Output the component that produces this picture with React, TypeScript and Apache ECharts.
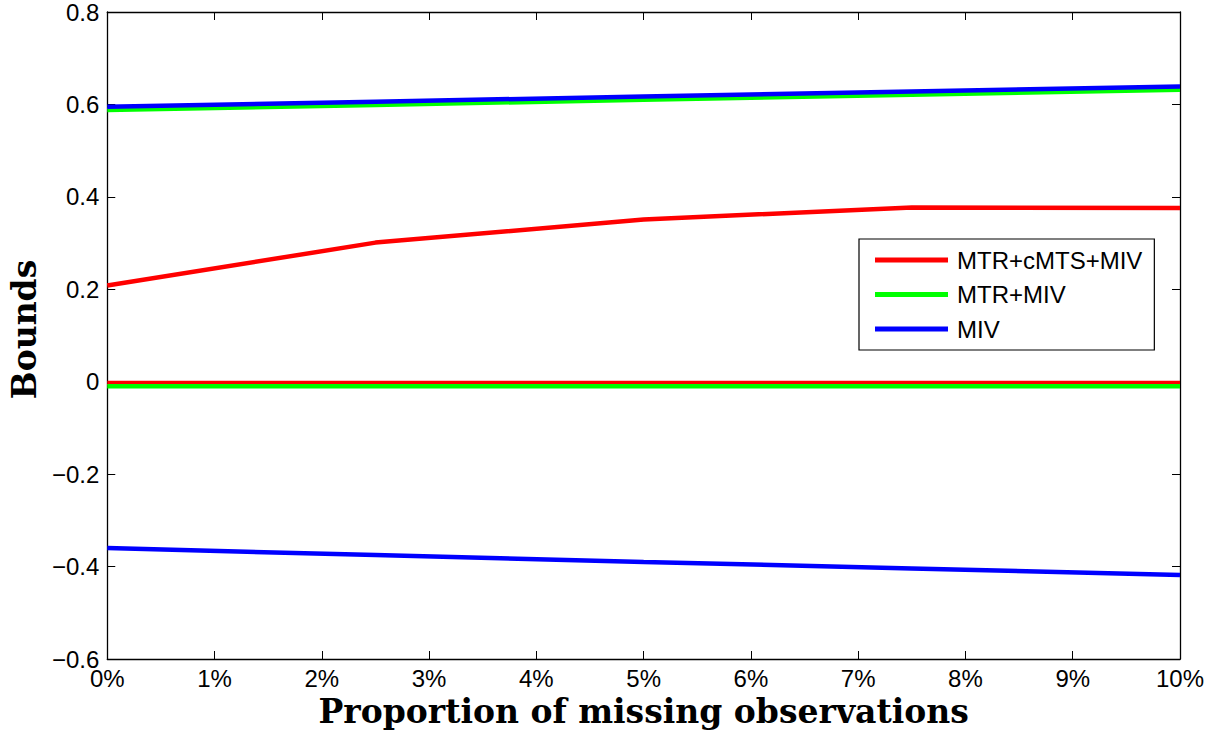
import React, { useEffect, useRef } from "react";
import * as echarts from "echarts";

const xValues = [0, 2.5, 5, 7.5, 10];
const redUpper = [0.208, 0.301, 0.351, 0.377, 0.376];
const redLower = [-0.003, -0.003, -0.003, -0.003, -0.003];
const greenUpper = [0.588, 0.599, 0.61, 0.621, 0.632];
const greenLower = [-0.01, -0.01, -0.01, -0.01, -0.01];
const blueUpper = [0.595, 0.606, 0.617, 0.628, 0.639];
const blueLower = [-0.36, -0.375, -0.39, -0.404, -0.418];
const seriesNames = ["MTR+cMTS+MIV", "MTR+MIV", "MIV"];
const seriesColors = ["#ff0000", "#00ff00", "#0000ff"];
const xTitle = "Proportion of missing observations";
const yTitle = "Bounds";

const pairs = (ys: number[]) => xValues.map((x, i) => [x, ys[i]]);

export default function App() {
  const ref = useRef<HTMLDivElement>(null);
  useEffect(() => {
    const chart = echarts.init(ref.current!, null, { renderer: "svg" });
    const axisLine = { show: true, onZero: false, lineStyle: { color: "#000", width: 1.3 } };
    const tickStyle = { show: true, inside: true, length: 8, lineStyle: { color: "#000", width: 1 } };
    const labelFont = { fontFamily: "Liberation Sans, Arial", fontSize: 24, color: "#000" };
    const groups = [
      [redUpper, redLower],
      [greenUpper, greenLower],
      [blueUpper, blueLower],
    ];
    const series: any[] = [];
    groups.forEach((g, gi) => {
      g.forEach((ys) => {
        series.push({
          type: "line",
          name: seriesNames[gi],
          data: pairs(ys),
          symbol: "none",
          color: seriesColors[gi],
          lineStyle: { color: seriesColors[gi], width: 4.5 },
          xAxisIndex: 0,
          yAxisIndex: 0,
        });
      });
    });
    chart.setOption({
      animation: false,
      backgroundColor: "#fff",
      grid: { left: 104, right: 37, top: 12, bottom: 78, containLabel: false },
      legend: {
        data: seriesNames,
        orient: "vertical",
        left: 859,
        top: 239,
        icon: "rect",
        itemWidth: 73,
        itemHeight: 5,
        itemGap: 10.5,
        padding: [9, 12, 9, 16],
        borderColor: "#000",
        borderWidth: 1.2,
        backgroundColor: "#fff",
        textStyle: { fontFamily: "Liberation Sans, Arial", fontSize: 24, color: "#000", lineHeight: 24, padding: [0, 0, 0, 4] },
      },
      xAxis: [
        {
          type: "value",
          min: 0,
          max: 10,
          interval: 1,
          position: "bottom",
          axisLine,
          axisTick: tickStyle,
          splitLine: { show: false },
          axisLabel: { ...labelFont, margin: 7, formatter: (v: number) => `${v}%` },
          name: xTitle,
          nameLocation: "middle",
          nameGap: 36,
          nameTextStyle: { fontFamily: "DejaVu Serif", fontWeight: "bold", fontSize: 33, color: "#000" },
        },
        {
          type: "value",
          min: 0,
          max: 10,
          interval: 1,
          position: "top",
          axisLine,
          axisTick: tickStyle,
          splitLine: { show: false },
          axisLabel: { show: false },
        },
      ],
      yAxis: [
        {
          type: "value",
          min: -0.6,
          max: 0.8,
          interval: 0.2,
          position: "left",
          axisLine,
          axisTick: tickStyle,
          splitLine: { show: false },
          axisLabel: {
            ...labelFont,
            margin: 8,
            formatter: (v: number) => {
              if (Math.abs(v) < 1e-9) return "0";
              return v.toFixed(1).replace("-", "\u2212");
            },
          },
          name: yTitle,
          nameLocation: "middle",
          nameGap: 64,
          nameTextStyle: { fontFamily: "DejaVu Serif", fontWeight: "bold", fontSize: 33, color: "#000", padding: [0, 0, 0, 12] },
        },
        {
          type: "value",
          min: -0.6,
          max: 0.8,
          interval: 0.2,
          position: "right",
          axisLine,
          axisTick: tickStyle,
          splitLine: { show: false },
          axisLabel: { show: false },
        },
      ],
      series,
    });
    return () => chart.dispose();
  }, []);
  return (
    <div
      ref={ref}
      style={{ position: "absolute", left: 0, top: 0, width: 1217, height: 737, background: "#fff" }}
    />
  );
}
